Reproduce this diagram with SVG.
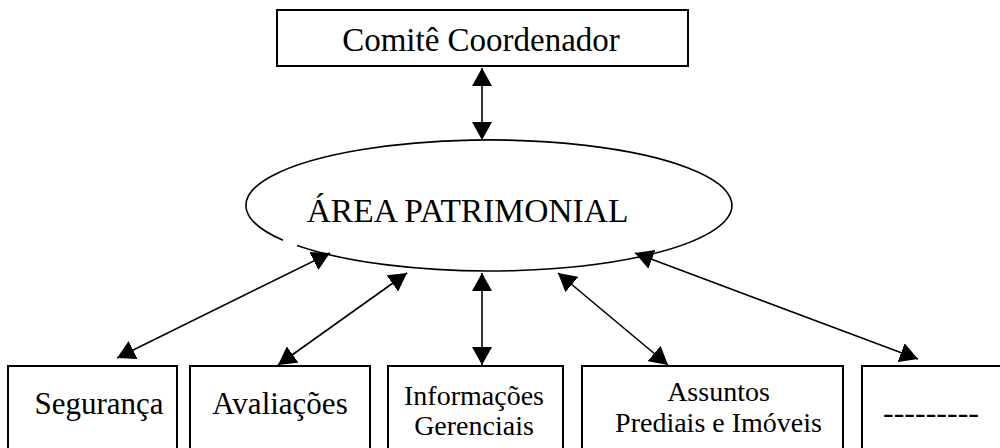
<svg xmlns="http://www.w3.org/2000/svg" width="1000" height="448" viewBox="0 0 1000 448">
<style>
.box{fill:#fff;stroke:#000;stroke-width:2}
.ell{fill:none;stroke:#000;stroke-width:1.6}
.t{font-family:"Liberation Serif","Times New Roman",serif;fill:#000;text-anchor:middle}
.conn line{stroke:#000;stroke-width:1.6;marker-start:url(#ah);marker-end:url(#ah)}
</style>
<defs>
<marker id="ah" viewBox="0 0 18 20" markerWidth="18" markerHeight="20" refX="18" refY="10" orient="auto-start-reverse" markerUnits="userSpaceOnUse">
<path d="M0,0 L18,10 L0,20 z" fill="#000"/>
</marker>
</defs>
<rect width="1000" height="448" fill="#fff"/>
<g id="comite">
<rect class="box" x="277" y="10" width="411" height="56"/>
<text class="t" x="481" y="51" font-size="33">Comitê Coordenador</text>
</g>
<g id="area">
<path class="ell" d="M283,240.2 A243,65.5 0 1 1 297,245.6"/>
<text class="t" x="467.5" y="222" font-size="33.5">ÁREA PATRIMONIAL</text>
</g>
<g id="seguranca">
<rect class="box" x="8" y="366" width="169" height="90"/>
<text class="t" x="99" y="414" font-size="31">Segurança</text>
</g>
<g id="avaliacoes">
<rect class="box" x="190" y="366" width="180" height="90"/>
<text class="t" x="280" y="414" font-size="31">Avaliações</text>
</g>
<g id="informacoes">
<rect class="box" x="388" y="366" width="175" height="90"/>
<text class="t" x="474" y="405" font-size="28">Informações</text>
<text class="t" x="474" y="435" font-size="28">Gerenciais</text>
</g>
<g id="assuntos">
<rect class="box" x="582" y="366" width="261" height="90"/>
<text class="t" x="718.5" y="401" font-size="28">Assuntos</text>
<text class="t" x="718.5" y="432" font-size="28">Prediais e Imóveis</text>
</g>
<g id="outros">
<rect class="box" x="862" y="366" width="141" height="90"/>
<text class="t" x="931" y="423" font-size="32">---------</text>
</g>
<g id="connectors" class="conn">
<line x1="482" y1="68" x2="482" y2="140"/>
<line x1="482" y1="273" x2="482" y2="365"/>
<line x1="330" y1="253" x2="117" y2="358"/>
<line x1="407" y1="273" x2="278" y2="365"/>
<line x1="558" y1="273" x2="668" y2="365"/>
<line x1="635" y1="253" x2="918" y2="359"/>
</g>
</svg>
